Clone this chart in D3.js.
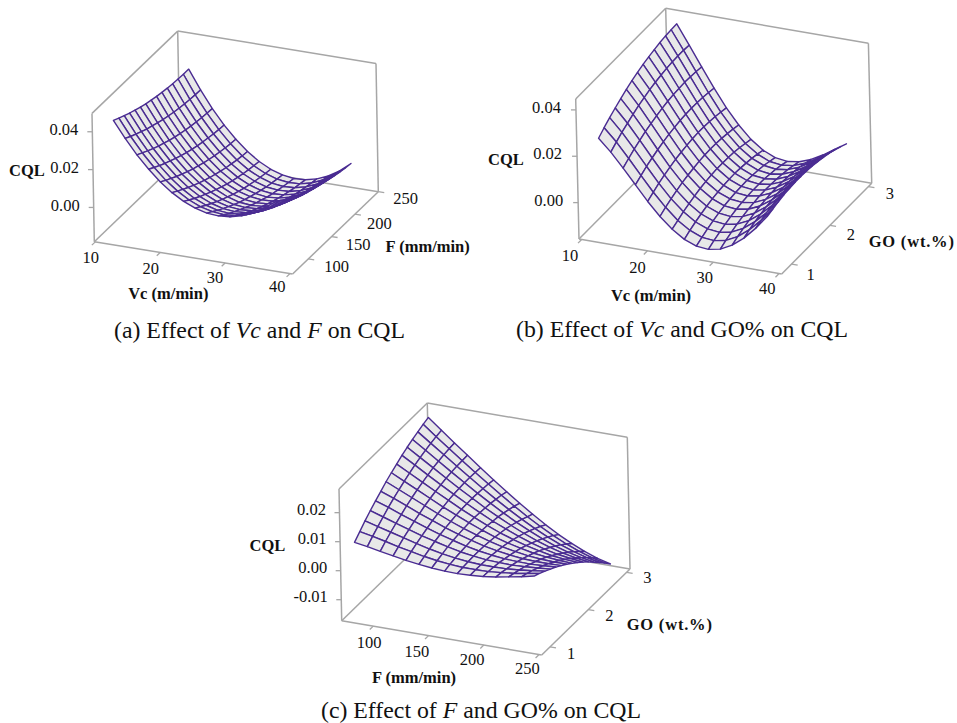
<!DOCTYPE html>
<html>
<head>
<meta charset="utf-8">
<script src="https://cdn.jsdelivr.net/npm/d3@7"></script>
<style>
body { margin: 0; background: #fff; }
svg { display: block; }
text { font-family: "Liberation Serif", serif; fill: #111; }
</style>
</head>
<body>
<div id="chart"></div>
<script>
// mesh positions along each axis
var vcGridA = [12.29,14.06,15.83,17.61,19.38,21.15,22.92,24.69,26.47,28.24,30.01,31.78,33.55,35.33,37.10];
var fGridA = [77.9,89.4,100.8,112.3,123.8,135.3,146.7,158.2,169.7,181.1,192.6,204.1,215.6,227.0,238.5];
var vcGridB = [12.09,13.91,15.73,17.55,19.36,21.18,23.00,24.82,26.63,28.45,30.27,32.09,33.91,35.72,37.54];
var goGridB = [0.885,1.032,1.179,1.326,1.473,1.621,1.768,1.915,2.062,2.209,2.356,2.503,2.650,2.797,2.944];
var fGridC = [81.4,93.0,104.6,116.2,127.8,139.5,151.1,162.7,174.3,185.9,197.5,209.1,220.7,232.3,243.9];
var goGridC = [0.871,1.011,1.150,1.290,1.430,1.570,1.709,1.849,1.989,2.129,2.268,2.408,2.548,2.688,2.827];

// CQL x 10^-4, one row per second-axis step (F or GO)
var cqlA = [
  [447,361,284,218,161,114,78,52,36,31,36,51,76,111,155],
  [431,344,267,200,142,95,58,32,16,10,15,30,55,90,135],
  [417,329,251,183,125,77,39,13,-4,-10,-5,10,35,70,115],
  [404,315,236,167,108,60,22,-5,-22,-28,-24,-9,17,52,97],
  [392,302,222,153,93,44,6,-22,-39,-45,-41,-26,-1,35,80],
  [381,291,210,139,79,30,-9,-38,-55,-61,-57,-42,-17,19,65],
  [371,280,198,127,66,16,-23,-52,-70,-76,-72,-57,-32,4,50],
  [363,270,188,116,55,4,-36,-65,-83,-90,-86,-71,-46,-10,37],
  [356,262,179,106,44,-7,-48,-77,-95,-102,-99,-84,-58,-22,25],
  [350,255,171,97,35,-17,-58,-88,-106,-114,-110,-95,-70,-33,14],
  [345,249,164,90,27,-26,-67,-97,-116,-124,-120,-106,-80,-43,4],
  [341,244,159,84,20,-33,-75,-105,-125,-132,-129,-115,-89,-52,-4],
  [339,241,154,78,14,-40,-82,-112,-132,-140,-137,-122,-97,-60,-12],
  [337,238,151,74,9,-45,-87,-118,-138,-146,-143,-129,-103,-66,-18],
  [337,237,148,71,6,-49,-92,-123,-143,-152,-149,-134,-109,-72,-23]
];
var cqlB = [
  [266,215,155,92,29,-27,-73,-108,-128,-133,-123,-97,-58,-7,53],
  [287,234,172,107,44,-12,-60,-94,-115,-120,-110,-85,-46,3,61],
  [306,251,188,122,58,0,-47,-82,-103,-109,-99,-74,-36,12,68],
  [323,266,201,134,69,11,-37,-72,-93,-99,-89,-65,-28,19,74],
  [339,280,214,145,79,21,-28,-63,-84,-90,-81,-57,-21,25,77],
  [354,293,224,154,88,28,-20,-56,-77,-83,-74,-51,-16,28,79],
  [367,303,233,162,94,34,-15,-51,-72,-78,-70,-47,-13,31,79],
  [378,313,241,168,99,39,-11,-47,-69,-75,-66,-44,-11,31,78],
  [388,320,247,173,103,42,-8,-45,-67,-73,-65,-43,-11,30,75],
  [396,326,251,175,105,43,-8,-44,-66,-73,-65,-44,-12,27,70],
  [403,331,253,177,105,42,-9,-46,-68,-74,-67,-46,-15,23,64],
  [409,334,255,176,103,40,-11,-49,-71,-78,-70,-50,-20,17,56],
  [413,335,254,174,100,36,-16,-53,-75,-82,-75,-55,-26,10,47],
  [415,335,252,170,95,31,-22,-59,-82,-89,-82,-63,-34,0,36],
  [416,333,248,165,89,24,-29,-67,-90,-97,-90,-71,-43,-10,23]
];
var cqlC = [
  [93,86,77,69,61,55,50,47,46,48,51,57,65,73,83],
  [112,103,93,82,73,64,57,52,49,49,50,54,59,66,74],
  [131,119,107,95,83,72,63,56,51,48,48,49,53,58,64],
  [148,134,120,106,92,80,69,59,52,47,45,44,46,49,53],
  [164,149,132,116,100,86,73,61,52,45,40,38,37,39,42],
  [179,162,144,125,108,91,76,63,51,42,35,30,28,28,29],
  [194,174,154,134,114,95,78,63,49,38,29,22,18,16,16],
  [207,185,163,141,119,99,80,62,46,33,22,13,7,3,1],
  [219,195,171,147,124,101,80,60,42,27,14,3,-6,-11,-14],
  [231,205,178,152,127,102,79,57,38,20,4,-9,-19,-26,-31],
  [241,213,185,157,129,103,77,54,32,12,-6,-21,-33,-42,-48],
  [250,220,190,160,131,102,75,49,25,3,-17,-34,-48,-59,-67],
  [258,226,194,162,131,100,71,43,17,-7,-29,-48,-64,-77,-86],
  [266,231,197,163,130,98,67,37,8,-18,-42,-63,-81,-96,-106],
  [272,235,199,164,129,94,61,29,-1,-30,-56,-79,-99,-115,-127]
];

// tick labels
var vcTicks = [10, 20, 30, 40];
var fTicks = [100, 150, 200, 250];
var goTicks = [1, 2, 3];
var cqlTicksAB = [0.04, 0.02, 0];
var cqlTicksC = [0.02, 0.01, 0, -0.01];

var panels = [
  { grid: [vcGridA, fGridA], cql: cqlA, ticks: [vcTicks, fTicks, cqlTicksAB],
    org: [94.3, 241.7], ex: [198.3, 32.3], ey: [85.7, -82.3], ez: [-2.3, -128.3],
    xScale: d3.scaleLinear().domain([10, 40]).range([0.005, 0.987]),
    yScale: d3.scaleLinear().domain([100, 250]).range([0.183, 1]),
    zDomain: [-0.0181, 0.0497],
    xOff: [[-4.6,21.6],[-9.4,21.1],[-10,20.2],[-12.7,18.2]],
    yOff: [[28.4,13],[26.4,13.9],[24.4,15],[27.4,11.8]],
    zOff: [-14, 3.7],
    cqlPos: [27, 175.7], xLabel: ["Vc (m/min)", 168.3, 299.3], yLabel: ["F (mm/min)", 427.7, 252.3],
    caption: [259.5, 338, ["(a) Effect of ", "Vc", " and ", "F", " on CQL"]] },
  { grid: [vcGridB, goGridB], cql: cqlB, ticks: [vcTicks, goTicks, cqlTicksAB],
    org: [579, 239], ex: [202.7, 35], ey: [90, -90.7], ez: [-3.3, -140],
    xScale: d3.scaleLinear().domain([10, 40]).range([0.013, 0.987]),
    yScale: d3.scaleLinear().domain([1, 3]).range([0.11, 0.963]),
    zDomain: [-0.0157, 0.0447],
    xOff: [[-11.6,21.7],[-9.9,22.3],[-8.5,21],[-11.7,20.7]],
    yOff: [[19.1,15.5],[21,14.9],[21.6,12.5]],
    zOff: [-15, 3.2],
    cqlPos: [506, 165], xLabel: ["Vc (m/min)", 651, 301], yLabel: ["GO (wt.%)", 911.7, 246.7],
    caption: [682, 337, ["(b) Effect of ", "Vc", " and GO% on CQL"]] },
  { grid: [fGridC, goGridC], cql: cqlC, ticks: [fTicks, goTicks, cqlTicksC],
    org: [341.7, 620.7], ex: [200, 34.3], ey: [88.3, -86], ez: [-2.7, -131.7],
    xScale: d3.scaleLinear().domain([100, 250]).range([0.158, 0.987]),
    yScale: d3.scaleLinear().domain([1, 3]).range([0.094, 0.962]),
    zDomain: [-0.01724, 0.02816],
    xOff: [[-4.3,21.4],[-11.6,21.8],[-11.8,20.1],[-11.8,19.9]],
    yOff: [[21,11.6],[21,11.3],[20.7,11.2]],
    zOff: [-13.5, 2.8],
    cqlPos: [267.5, 550.7], xLabel: ["F (mm/min)", 414, 683.3], yLabel: ["GO (wt.%)", 669.7, 630],
    caption: [481, 718, ["(c) Effect of ", "F", " and GO% on CQL"]] }
];

var svg = d3.select("#chart").append("svg").attr("width", 957).attr("height", 723);
var axisColor = "#a6a6a6", meshColor = "#4a2c92", meshFill = "#e8e8e8";

function drawPanel(p) {
  var g = svg.append("g");
  var zScale = d3.scaleLinear().domain(p.zDomain).range([0, 1]);

  var project = function(u, v, w) {
    return [p.org[0] + u * p.ex[0] + v * p.ey[0] + w * p.ez[0],
            p.org[1] + u * p.ex[1] + v * p.ey[1] + w * p.ez[1]];
  };
  var seg = function(a, b, width) {
    g.append("line").attr("x1", a[0]).attr("y1", a[1]).attr("x2", b[0]).attr("y2", b[1])
      .attr("stroke", axisColor).attr("stroke-width", width);
  };
  var label = function(x, y, txt, anchor, size, bold) {
    return g.append("text").attr("x", x).attr("y", y).attr("text-anchor", anchor)
      .attr("font-size", size).attr("font-weight", bold ? "bold" : null).text(txt);
  };

  // box frame: floor, left wall edges, back wall edges
  [[[0,0,0],[1,0,0]], [[1,0,0],[1,1,0]], [[1,1,0],[0,1,0]], [[0,1,0],[0,0,0]],
   [[0,0,0],[0,0,1]], [[0,0,1],[0,1,1]], [[0,1,1],[1,1,1]], [[1,1,1],[1,1,0]], [[0,1,0],[0,1,1]]]
    .forEach(function(e) { seg(project.apply(null, e[0]), project.apply(null, e[1]), 1.5); });

  // ticks
  p.ticks[0].forEach(function(t, i) {
    var a = project(p.xScale(t), 0, 0);
    seg(a, [a[0] - p.ey[0] * 0.04, a[1] - p.ey[1] * 0.04], 1.3);
    label(a[0] + p.xOff[i][0], a[1] + p.xOff[i][1], t, "middle", 16.5);
  });
  p.ticks[1].forEach(function(t, i) {
    var a = project(1, p.yScale(t), 0);
    seg(a, [a[0] + p.ex[0] * 0.03, a[1] + p.ex[1] * 0.03], 1.3);
    label(a[0] + p.yOff[i][0], a[1] + p.yOff[i][1], t, "middle", 16.5);
  });
  p.ticks[2].forEach(function(t) {
    var a = project(0, 0, zScale(t));
    seg(a, [a[0] - 5, a[1]], 1.3);
    label(a[0] + p.zOff[0], a[1] + p.zOff[1], t.toFixed(2), "end", 16.5);
  });

  label(p.cqlPos[0], p.cqlPos[1], "CQL", "middle", 16.5, true);
  [p.xLabel, p.yLabel].forEach(function(l) {
    label(l[1], l[2], l[0], "middle", 16.5, true)
      .attr("letter-spacing", l[0].indexOf("GO") == 0 ? 0.8 : null);
  });

  var cap = label(p.caption[0], p.caption[1], null, "middle", 23.8);
  p.caption[2].forEach(function(s, i) {
    cap.append("tspan").attr("font-style", i % 2 ? "italic" : null).text(s);
  });

  // mesh, painted from the far row to the near one
  var xs = p.grid[0], ys = p.grid[1];
  var pts = p.cql.map(function(row, j) {
    return row.map(function(z, i) {
      return project(p.xScale(xs[i]), p.yScale(ys[j]), zScale(z / 1e4));
    });
  });
  var line = d3.line();
  for (var j = ys.length - 2; j >= 0; j--) {
    for (var i = 0; i < xs.length - 1; i++) {
      g.append("path")
        .attr("d", line([pts[j][i], pts[j][i + 1], pts[j + 1][i + 1], pts[j + 1][i]]) + "Z")
        .attr("fill", meshFill).attr("stroke", meshColor)
        .attr("stroke-width", 1.4).attr("stroke-linejoin", "round");
    }
  }
}

panels.forEach(drawPanel);
</script>
</body>
</html>
